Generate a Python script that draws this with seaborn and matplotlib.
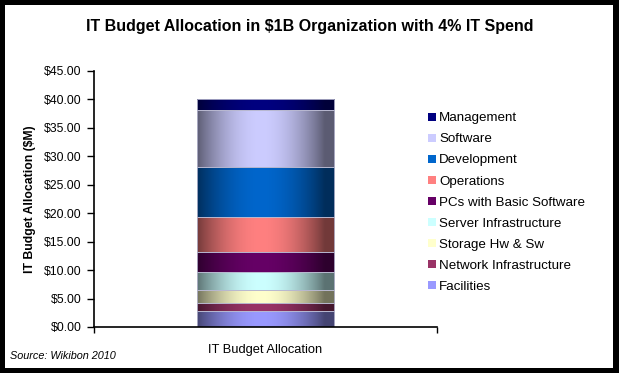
import numpy as np
import pandas as pd
import matplotlib
matplotlib.use("Agg")
import matplotlib.pyplot as plt
from matplotlib.patches import Rectangle, Patch
from matplotlib.ticker import FuncFormatter, MultipleLocator, FixedLocator
import seaborn as sns

# stack order, bottom to top
components = ["Facilities", "Network Infrastructure", "Storage Hw & Sw",
              "Server Infrastructure", "PCs with Basic Software", "Operations",
              "Development", "Software", "Management"]
values = [2.8, 1.5, 2.2, 3.2, 3.4, 6.2, 8.8, 10.0, 1.9]
colors = ["#9999FF", "#993366", "#FFFFCC", "#CCFFFF", "#660066",
          "#FF8080", "#0066CC", "#CCCCFF", "#000080"]
category = "IT Budget Allocation"

df = pd.DataFrame({"cat": [category] * len(components),
                   "component": components, "value": values})

sns.set_theme(style="white")
plt.rcParams["font.family"] = ["Liberation Sans", "DejaVu Sans"]
plt.rcParams["text.color"] = "black"
plt.rcParams["xtick.color"] = "black"
plt.rcParams["ytick.color"] = "black"
plt.rcParams["axes.labelcolor"] = "black"

fig = plt.figure(figsize=(6.19, 3.73), dpi=100, facecolor="black")
fig.patches.append(Rectangle((5 / 619, 5 / 373), 608 / 619, 363 / 373,
                             transform=fig.transFigure, facecolor="white",
                             edgecolor="none", zorder=-10))
ax = fig.add_axes([94 / 619, 1 - 327 / 373, (437 - 94) / 619, (327 - 71) / 373])
ax.set_facecolor("none")

pal = dict(zip(components, colors))
sns.histplot(data=df, x="cat", weights="value", hue="component",
             hue_order=components[::-1], palette=pal, multiple="stack",
             shrink=0.4, discrete=True, legend=False, ax=ax,
             edgecolor="#b8b8d0", linewidth=0.6, alpha=1)

# horizontal shading like the Excel 2007 bar fill
t = np.linspace(0, 1, 200)
shade = 0.45 + 0.55 * np.sin(np.pi * np.clip(t * 1.08, 0, 1)) ** 0.9
for p in list(ax.patches):
    fc = np.array(p.get_facecolor()[:3])
    bb = p.get_bbox()
    img = np.clip(fc[None, None, :] * shade[None, :, None], 0, 1)
    ax.imshow(img, extent=[bb.x0, bb.x1, bb.y0, bb.y1], aspect="auto",
              zorder=1.5, interpolation="bilinear")
    p.set_facecolor("none")
    p.set_zorder(2)

ax.set_xlim(-0.5, 0.5)
ax.set_ylim(0, 45)
ax.yaxis.set_major_locator(MultipleLocator(5))
ax.yaxis.set_major_formatter(FuncFormatter(lambda v, _: f"${v:.2f}"))
ax.set_xticks([0])
ax.set_xticklabels([category], fontsize=9.3)
ax.xaxis.set_minor_locator(FixedLocator([-0.5, 0.5]))
ax.tick_params(axis="x", which="major", length=0, pad=12)
ax.tick_params(axis="x", which="minor", bottom=True, length=4, width=1,
               direction="out", color="black")
ax.tick_params(axis="y", left=True, length=5, width=1, direction="out",
               color="black", labelsize=8.8, pad=4)
for s in ["top", "right"]:
    ax.spines[s].set_visible(False)
for s in ["left", "bottom"]:
    ax.spines[s].set_color("black")
    ax.spines[s].set_linewidth(1.2)
    ax.spines[s].set_zorder(3)
ax.set_xlabel("")
ax.set_ylabel("IT Budget Allocation ($M)", fontsize=8.8, fontweight="bold",
              labelpad=6)

fig.text(0.5 * (88 + 531) / 619, 1 - 27 / 373,
         "IT Budget Allocation in $1B Organization with 4% IT Spend",
         ha="center", va="center", fontsize=11.5, fontweight="bold")
fig.text(10 / 619, 1 - 356 / 373, "Source: Wikibon 2010", ha="left",
         va="center", fontsize=7.8, style="italic")

handles = [Patch(facecolor=c, edgecolor="none", label=n)
           for n, c in zip(components[::-1], colors[::-1])]
fig.legend(handles=handles, loc="upper left",
           bbox_to_anchor=(423 / 619, 1 - 107 / 373), frameon=False,
           fontsize=9.6, handlelength=0.55, handleheight=0.55,
           handletextpad=0.25, labelspacing=0.68, borderaxespad=0)

fig.savefig("out.png", dpi=100, facecolor="black")
